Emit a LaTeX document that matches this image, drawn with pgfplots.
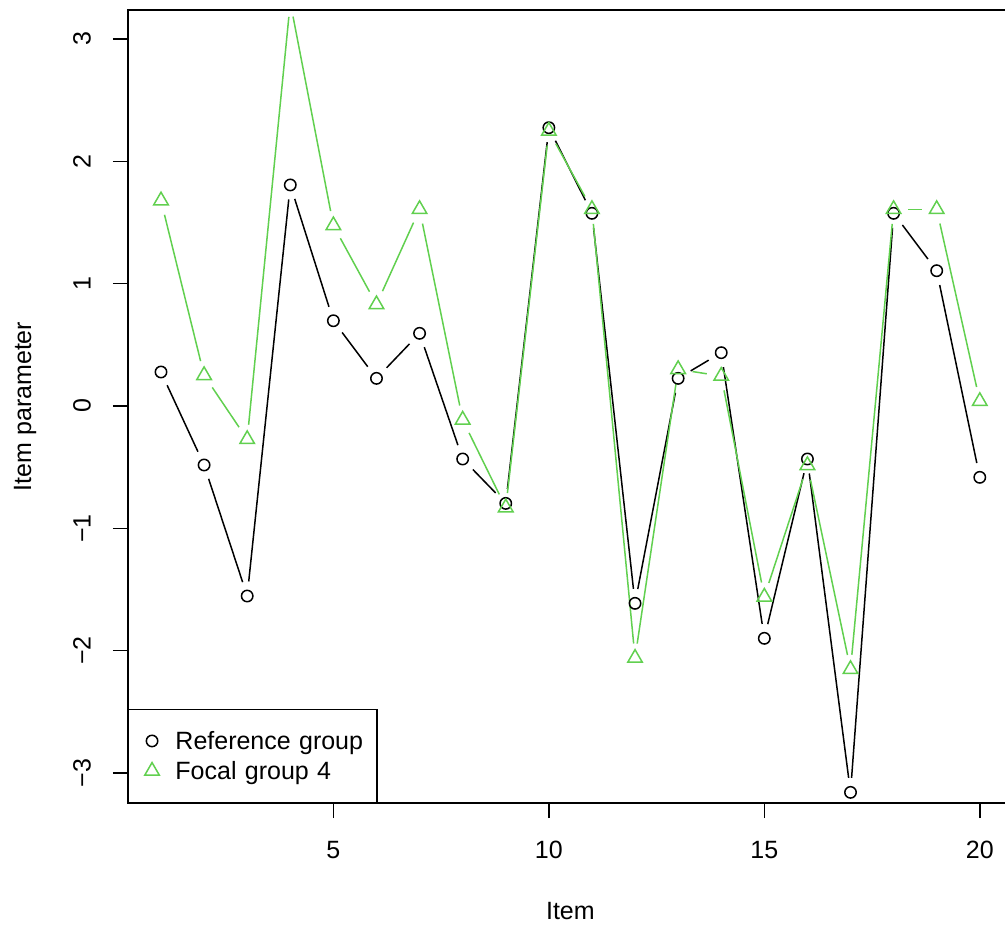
\documentclass[border=0pt]{standalone}
\usepackage{fontspec}
\setmainfont{Liberation Sans}
\usepackage{pgfplots}
\usepackage{pgfplotstable}
\pgfplotsset{compat=1.18}
\definecolor{focalgreen}{HTML}{61D04F}

% item, reference group, focal group 4
\pgfplotstableread{
i  ref     foc
1  0.278   1.679
2  -0.482  0.251
3  -1.553  -0.272
4  1.807   3.300
5  0.697   1.476
6  0.226   0.830
7  0.594   1.608
8  -0.433  -0.113
9  -0.796  -0.830
10 2.275   2.248
11 1.575   1.608
12 -1.613  -2.060
13 0.226   0.300
14 0.436   0.245
15 -1.899  -1.560
16 -0.433  -0.485
17 -3.158  -2.152
18 1.575   1.608
19 1.106   1.608
20 -0.583  0.039
}\itemtab

\pgfplotsset{
  legmark/.style={legend image code/.code={%
    \path[draw=none, fill=none] (0pt,-7.5pt) rectangle (23.35pt,7.5pt);
    \draw[##1] plot coordinates {(11.65pt,0pt)};}},
  seg/.style={line width=0.75pt, no markers, forget plot,
    shorten <=7.3pt, shorten >=7.3pt},
}

\begin{document}
\fontsize{12.5pt}{15pt}\selectfont
\begin{tikzpicture}
\begin{axis}[
  scale only axis, width=442.4pt, height=396.5pt,
  xmin=0.234, xmax=20.766, ymin=-3.245, ymax=3.237,
  axis line style={line width=0.75pt},
  every tick/.style={black, line width=0.75pt},
  tick align=outside, tick pos=left, major tick length=7.5pt,
  xtick={5,10,15,20}, xticklabels={5,10,15,20},
  ytick={-3,-2,-1,0,1,2,3}, yticklabels={−3,−2,−1,0,1,2,3},
  xticklabel style={anchor=center}, xticklabel shift=16pt,
  yticklabel style={rotate=90, anchor=center}, yticklabel shift=15.5pt,
  xlabel={Item}, ylabel={Item parameter},
  xlabel style={at={(axis description cs:0.5,-0.1362)}, anchor=center},
  ylabel style={at={(axis description cs:-0.1164,0.5)}, anchor=center},
  legend style={at={(0,0)}, anchor=south west, draw=black, line width=0.75pt,
    fill=white, inner xsep=0pt, inner ysep=8.15pt, row sep=0pt, column sep=0pt,
    nodes={inner sep=0pt, text height=11.8pt, text depth=3.2pt, text width=100.65pt}},
  legend cell align=left,
]
% one short segment per pair of neighbouring items, gapped at the marks
\pgfplotsinvokeforeach{0,...,18}{
  \addplot[seg, black, x filter/.code={%
      \ifnum\coordindex<#1\relax\def\pgfmathresult{}\fi
      \ifnum\coordindex>\numexpr#1+1\relax\def\pgfmathresult{}\fi}]
    table[x=i, y=ref] {\itemtab};
}
\pgfplotsinvokeforeach{0,...,18}{
  \addplot[seg, focalgreen, x filter/.code={%
      \ifnum\coordindex<#1\relax\def\pgfmathresult{}\fi
      \ifnum\coordindex>\numexpr#1+1\relax\def\pgfmathresult{}\fi}]
    table[x=i, y=foc] {\itemtab};
}
\addplot[only marks, mark=o, mark size=2.85pt, black, line width=0.75pt, legmark]
  table[x=i, y=ref] {\itemtab};
\addlegendentry{Reference group}
\addplot[only marks, mark=triangle, mark size=4.2pt, focalgreen, line width=0.75pt, legmark]
  table[x=i, y=foc] {\itemtab};
\addlegendentry{Focal group 4}
\end{axis}
\pgfresetboundingbox
\useasboundingbox (-64pt,-62pt) rectangle (438.5pt,401.5pt);
\end{tikzpicture}
\end{document}
